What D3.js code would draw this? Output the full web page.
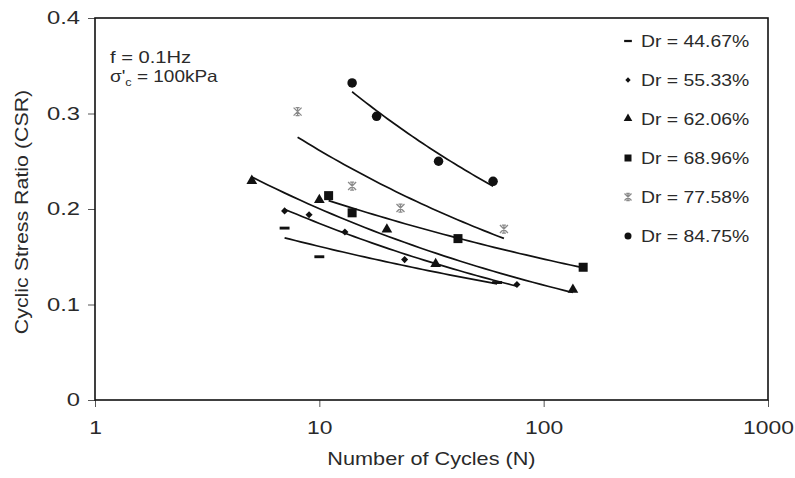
<!DOCTYPE html>
<html>
<head>
<meta charset="utf-8">
<script src="https://cdn.jsdelivr.net/npm/d3@7"></script>
<style>
  body { margin: 0; background: #fff; }
  text { font-family: "Liberation Sans", Arial, sans-serif; fill: #2a2a2a; }
</style>
</head>
<body>
<svg id="chart" width="795" height="478"></svg>
<script>
// Series: number of cycles N and CSR
var seriesNames = ['Dr = 44.67%', 'Dr = 55.33%', 'Dr = 62.06%', 'Dr = 68.96%', 'Dr = 77.58%', 'Dr = 84.75%'];
var symbols = ['dash', 'diamond', 'triangle', 'square', 'asterisk', 'circle'];

var cyclesDr44 = [7, 10, 62];
var csrDr44 = [0.180, 0.150, 0.123];
var cyclesDr55 = [7, 9, 13, 24, 76];
var csrDr55 = [0.198, 0.194, 0.176, 0.147, 0.121];
var cyclesDr62 = [5, 10, 20, 33, 135];
var csrDr62 = [0.229, 0.209, 0.178, 0.142, 0.115];
var cyclesDr69 = [11, 14, 41.5, 150];
var csrDr69 = [0.214, 0.196, 0.169, 0.139];
var cyclesDr78 = [8, 14, 23, 66.5];
var csrDr78 = [0.302, 0.224, 0.201, 0.179];
var cyclesDr85 = [14, 18, 34, 59.5];
var csrDr85 = [0.332, 0.297, 0.250, 0.229];

var xTicks = [1, 10, 100, 1000];
var yTicks = [0, 0.1, 0.2, 0.3, 0.4];

var cycles = [cyclesDr44, cyclesDr55, cyclesDr62, cyclesDr69, cyclesDr78, cyclesDr85];
var csr = [csrDr44, csrDr55, csrDr62, csrDr69, csrDr78, csrDr85];

var svg = d3.select('#chart');

var x = d3.scaleLog().domain([1, 1000]).range([95, 768]);
var y = d3.scaleLinear().domain([0, 0.4]).range([400, 18]);

// Stretch text horizontally (the original figure is wider than its fonts).
function stretch(sel, factor) {
    sel.each(function () {
        var w = this.getComputedTextLength();
        d3.select(this)
            .attr('textLength', w * factor)
            .attr('lengthAdjust', 'spacingAndGlyphs');
    });
}

// Axes
var yAxis = svg.append('g')
    .attr('transform', 'translate(95,0)')
    .call(d3.axisLeft(y).tickValues(yTicks).tickSize(7).tickSizeOuter(0).tickPadding(8)
        .tickFormat(function (d) { return d === 0 ? '0' : d3.format('.1f')(d); }));
yAxis.select('.domain').remove();
yAxis.selectAll('line').attr('stroke', '#555').attr('stroke-width', 1);
yAxis.selectAll('text')
    .style('font-family', '"Liberation Sans", Arial, sans-serif')
    .style('font-size', '18px')
    .attr('fill', '#2a2a2a');
stretch(yAxis.selectAll('text'), 1.32);

var xAxis = svg.append('g')
    .attr('transform', 'translate(0,400)')
    .call(d3.axisBottom(x).tickValues(xTicks).tickSize(7).tickSizeOuter(0).tickPadding(14)
        .tickFormat(d3.format('d')));
xAxis.select('.domain').remove();
xAxis.selectAll('line').attr('stroke', '#555').attr('stroke-width', 1);
xAxis.selectAll('text')
    .style('font-family', '"Liberation Sans", Arial, sans-serif')
    .style('font-size', '18px')
    .attr('fill', '#2a2a2a');
stretch(xAxis.selectAll('text'), 1.27);

// Plot frame
svg.append('rect')
    .attr('x', x(1)).attr('y', y(0.4))
    .attr('width', x(1000) - x(1)).attr('height', y(0) - y(0.4))
    .attr('fill', 'none').attr('stroke', '#111').attr('stroke-width', 1.6);

// Axis titles
var xTitle = svg.append('text')
    .attr('x', (x(1) + x(1000)) / 2).attr('y', 465)
    .attr('text-anchor', 'middle')
    .style('font-size', '19px')
    .text('Number of Cycles (N)');
stretch(xTitle, 1.14);

var yTitle = svg.append('text')
    .attr('transform', 'translate(28,212) rotate(-90)')
    .attr('text-anchor', 'middle')
    .style('font-size', '17.5px')
    .text('Cyclic Stress Ratio (CSR)');
stretch(yTitle, 1.22);

// Test conditions
var note1 = svg.append('text').attr('x', 110).attr('y', 63)
    .style('font-size', '16.5px').text('f = 0.1Hz');
stretch(note1, 1.22);
var note2 = svg.append('text').attr('x', 110).attr('y', 82).style('font-size', '16.5px');
note2.append('tspan').text("\u03c3'");
note2.append('tspan').attr('dy', 4).style('font-size', '11px').text('c');
note2.append('tspan').attr('dy', -4).text(' = 100kPa');
stretch(note2, 1.15);

// Power-law trend (CSR = a N^b), least squares in log space like the spreadsheet trendline
function powerFit(ns, cs) {
    var lx = ns.map(Math.log), ly = cs.map(Math.log);
    var mx = d3.mean(lx), my = d3.mean(ly);
    var sxy = d3.sum(lx, function (v, i) { return (v - mx) * (ly[i] - my); });
    var sxx = d3.sum(lx, function (v) { return (v - mx) * (v - mx); });
    var b = sxy / sxx;
    var a = Math.exp(my - b * mx);
    return function (n) { return a * Math.pow(n, b); };
}

var line = d3.line()
    .x(function (d) { return x(d[0]); })
    .y(function (d) { return y(d[1]); });

cycles.forEach(function (ns, i) {
    var f = powerFit(ns, csr[i]);
    var lo = d3.min(ns), hi = d3.max(ns);
    var pts = d3.range(0, 41).map(function (k) {
        var n = lo * Math.pow(hi / lo, k / 40);
        return [n, f(n)];
    });
    svg.append('path')
        .attr('d', line(pts))
        .attr('fill', 'none')
        .attr('stroke', '#111')
        .attr('stroke-width', 1.7);
});

// Marker drawing
function drawMarker(g, type, cx, cy, s) {
    if (type === 'dash') {
        g.append('rect').attr('x', cx - s * 0.55).attr('y', cy - s * 0.16)
            .attr('width', s * 1.1).attr('height', s * 0.32).attr('fill', '#111');
    } else if (type === 'diamond') {
        g.append('path').attr('d', d3.symbol(d3.symbolDiamond2, s * s * 0.5)())
            .attr('transform', 'translate(' + cx + ',' + cy + ')').attr('fill', '#111');
    } else if (type === 'triangle') {
        g.append('path').attr('d', d3.symbol(d3.symbolTriangle, s * s * 0.5)())
            .attr('transform', 'translate(' + cx + ',' + (cy - 0.5) + ')').attr('fill', '#111');
    } else if (type === 'square') {
        g.append('rect').attr('x', cx - s / 2).attr('y', cy - s / 2)
            .attr('width', s).attr('height', s).attr('fill', '#111');
    } else if (type === 'asterisk') {
        var r = s / 2;
        g.append('path')
            .attr('d', 'M' + (cx - r) + ',' + (cy - r) + 'L' + (cx + r) + ',' + (cy + r) +
                'M' + (cx - r) + ',' + (cy + r) + 'L' + (cx + r) + ',' + (cy - r) +
                'M' + cx + ',' + (cy - r) + 'L' + cx + ',' + (cy + r) +
                'M' + (cx - r * 0.5) + ',' + (cy - r) + 'L' + (cx + r * 0.5) + ',' + (cy - r) +
                'M' + (cx - r * 0.5) + ',' + (cy + r) + 'L' + (cx + r * 0.5) + ',' + (cy + r))
            .attr('stroke', '#8a8a8a').attr('stroke-width', 1.3).attr('fill', 'none');
    } else if (type === 'circle') {
        g.append('circle').attr('cx', cx).attr('cy', cy).attr('r', s / 2).attr('fill', '#111');
    }
}

var markerSize = [9, 8, 10, 9, 8, 9.5];

cycles.forEach(function (ns, i) {
    var g = svg.append('g');
    ns.forEach(function (n, k) {
        drawMarker(g, symbols[i], x(n), y(csr[i][k]), markerSize[i]);
    });
});

// Legend (no frame in the original)
var legend = svg.append('g');
var legendSize = [7, 6, 8, 7, 7, 7];
seriesNames.forEach(function (name, i) {
    var cy = 41 + i * 39;
    drawMarker(legend, symbols[i], 628, cy, legendSize[i]);
    var t = legend.append('text')
        .attr('x', 641).attr('y', cy + 6)
        .style('font-size', '17px')
        .text(name);
    stretch(t, 1.14);
});
</script>
</body>
</html>
